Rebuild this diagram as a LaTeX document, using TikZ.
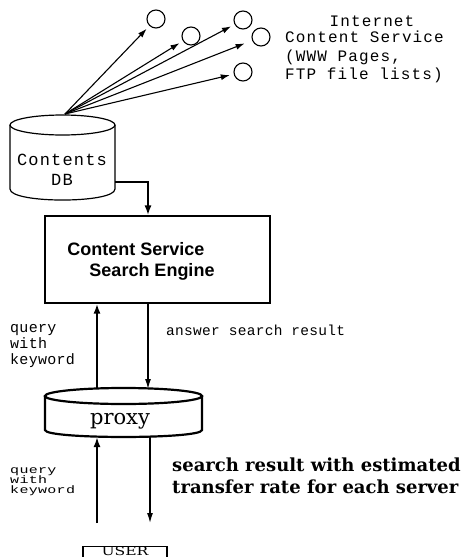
\documentclass[tikz,border=0pt]{standalone}
\usepackage{fontspec}
\usetikzlibrary{arrows.meta}
\newfontfamily\monofont[LetterSpace=7]{Liberation Mono}
\newfontfamily\monowide[LetterSpace=7]{Liberation Mono}
\newfontfamily\monolabel[LetterSpace=2]{Liberation Mono}
\newfontfamily\enginefont{Liberation Sans}
\newfontfamily\seriffont{DejaVu Serif}

\tikzset{
  fan/.style={line width=1.1pt, -{Latex[length=9pt,width=6pt]}, shorten >=4pt},
  boldflow/.style={line width=2pt, -{Latex[length=10pt,width=7pt]}},
  thinflow/.style={line width=1.3pt, -{Latex[length=10pt,width=6pt]}},
  site/.style={circle, draw, line width=1.1pt, minimum size=18pt, inner sep=0pt},
  monotext/.style={inner sep=0pt, align=left},
}

\begin{document}
\begin{tikzpicture}[x=1pt, y=-1pt]
\useasboundingbox (0,0) rectangle (470,557);

% Internet content servers
\node[site] (c1) at (156,19) {};
\node[site] (c2) at (191,36) {};
\node[site] (c3) at (243,20) {};
\node[site] (c4) at (261,37) {};
\node[site] (c5) at (243,72) {};

\node[inner sep=0pt, font=\monofont\fontsize{16}{18.5}\selectfont] (inet) at (372,21) {Internet};
\node[monotext, anchor=west, font=\monofont\fontsize{16}{18.5}\selectfont] (inetsvc) at (285,57)
  {Content Service\\(WWW Pages,\\FTP file lists)};

% Contents DB cylinder
\draw[line width=1.2pt] (62.5,125) ellipse [x radius=52.5, y radius=10];
\draw[line width=1.2pt] (10,125) -- (10,189) .. controls (10,203.7) and (115,203.7) .. (115,189) -- (115,125);
\node[inner sep=0pt, font=\monowide\fontsize{17}{18}\selectfont] (dbl1) at (62,160) {Contents};
\node[inner sep=0pt, font=\monowide\fontsize{17}{18}\selectfont] (dbl2) at (62,180) {DB};
\coordinate (fansrc) at (65,114);
\coordinate (dbout) at (115,182);

\draw[fan] (fansrc) -- (c1);
\draw[fan] (fansrc) -- (c2);
\draw[fan] (fansrc) -- (c3);
\draw[fan, shorten >=8pt] (fansrc) -- (c4);
\draw[fan] (fansrc) -- (c5);

% Search engine
\node[draw, line width=1.1pt, minimum width=225pt, minimum height=87pt, inner sep=0pt] (engine) at (157.5,259.5) {};
\node[inner sep=0pt, font=\enginefont\bfseries\fontsize{18}{22}\selectfont] (eng1) at (136,249) {Content Service};
\node[inner sep=0pt, font=\enginefont\bfseries\fontsize{18}{22}\selectfont] (eng2) at (152,272) {Search Engine};

\draw[boldflow] (dbout) -| ([xshift=-9.5pt]engine.north);

% Proxy cylinder
\draw[line width=2.2pt] (123.5,396) ellipse [x radius=78.5, y radius=8];
\draw[line width=2.2pt] (45,396) -- (45,430) .. controls (45,439.3) and (202,439.3) .. (202,430) -- (202,396);
\node[inner sep=0pt, font=\seriffont\fontsize{21}{24}\selectfont] (proxy) at (120,421) {proxy};
\coordinate (pxtopL) at (97,389);
\coordinate (pxtopR) at (148,389);
\coordinate (pxbotL) at (97,437);
\coordinate (pxbotR) at (150,437);

% Engine <-> proxy
\draw[boldflow] (pxtopL) -- (pxtopL |- engine.south);
\draw[thinflow] (pxtopR |- engine.south) -- (pxtopR);
\node[monotext, anchor=west, font=\monolabel\fontsize{15}{16}\selectfont] (q1) at (10,346) {query\\with\\keyword};
\node[monotext, anchor=west, font=\monolabel\fontsize{14.5}{16}\selectfont] (ans) at (166,330) {answer search result};

% User box (runs past the lower edge) and its label
\node[draw, line width=1.1pt, minimum width=84pt, minimum height=22pt, inner sep=0pt, anchor=north] (user) at (125,546) {};
\node[inner sep=0pt, font=\seriffont\fontsize{12}{13}\selectfont] (userlbl) at (125,551) {\scalebox{1.3}[1]{USER}};
\coordinate (userL) at (97,523);
\coordinate (userR) at (150,523);

% Proxy <-> user
\draw[boldflow] (userL) -- (pxbotL);
\draw[thinflow] (pxbotR) -- (userR);
\node[monotext, anchor=west, font=\monolabel\fontsize{15}{16}\selectfont] (q2) at (10,481)
  {\scalebox{1}[0.72]{\begin{tabular}{@{}l@{}}query\\[-2pt]with\\[-2pt]keyword\end{tabular}}};
\node[monotext, anchor=west, font=\seriffont\bfseries\fontsize{18}{22}\selectfont] (result) at (172,476)
  {search result with estimated\\transfer rate for each server};
\end{tikzpicture}
\end{document}
